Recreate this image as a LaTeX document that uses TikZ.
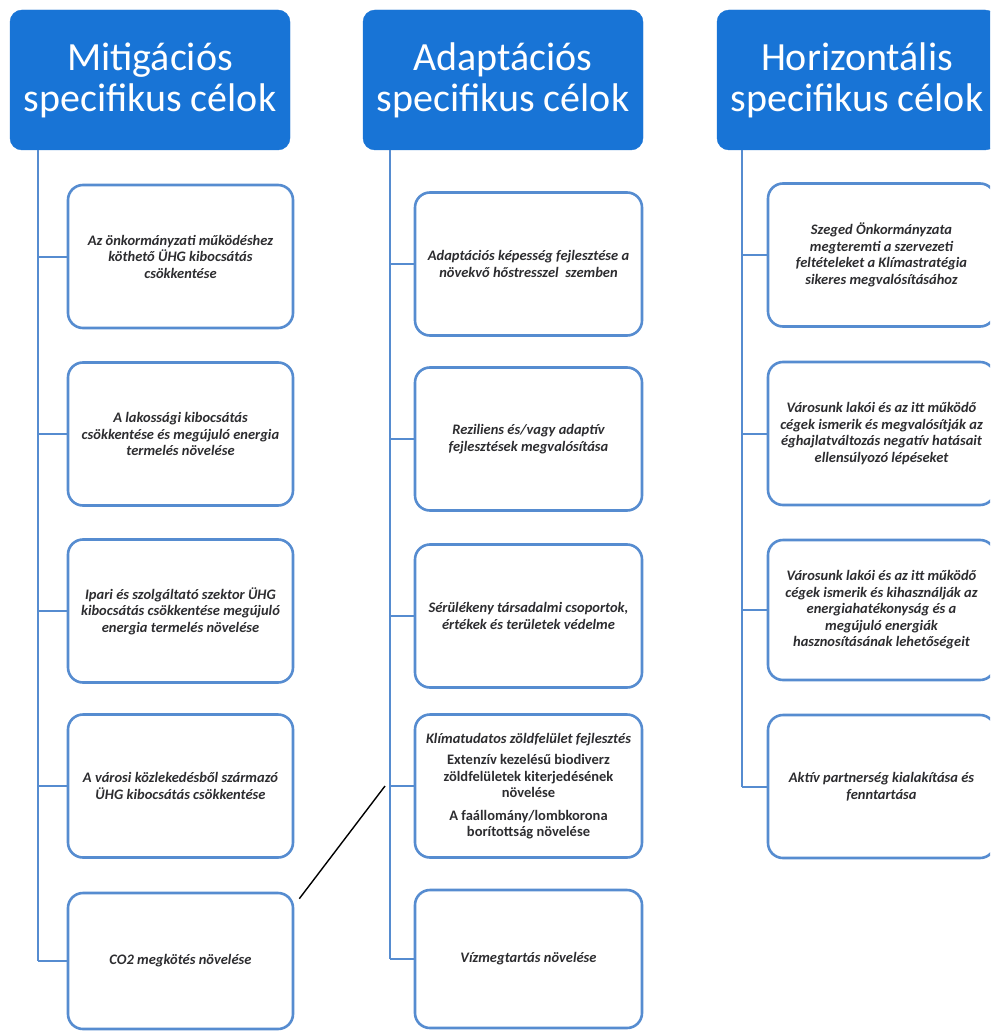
\documentclass[tikz,border=0pt]{standalone}
\usepackage{fontspec}
\setmainfont{Carlito}
\usetikzlibrary{calc}
\definecolor{hdrblue}{RGB}{24,116,214}
\definecolor{boxblue}{RGB}{86,140,208}
\definecolor{txtgray}{RGB}{45,45,48}
\tikzset{
  hdr/.style={fill=hdrblue, draw=hdrblue, rounded corners=12pt, minimum width=280pt, minimum height=140pt, text=white, align=center, font=\fontsize{40}{41}\selectfont, inner sep=0pt},
  goal/.style={draw=boxblue, line width=2.6pt, rounded corners=15pt, fill=white, minimum width=225pt, minimum height=143pt, align=center, text=txtgray, font=\fontsize{14.5}{16.5}\selectfont\bfseries\itshape, inner sep=0pt},
  branch/.style={draw=boxblue, line width=2pt},
  link/.style={draw=black, line width=1.4pt}
}
\begin{document}
\begin{tikzpicture}[x=1pt,y=-1pt]
\useasboundingbox (0,0) rectangle (990,1032);
\clip (0,0) rectangle (990,1032);
\fill[white] (0,0) rectangle (990,1032);

% headers
\node[hdr] (h1) at (150,80) {Mitigációs\\specifikus célok};
\node[hdr] (h2) at (503,80) {Adaptációs\\specifikus célok};
\node[hdr] (h3) at (857,80) {Horizontális\\specifikus célok};

% spine anchors
\coordinate (v1) at (38,150);
\coordinate (v2) at (390,150);
\coordinate (v3) at (742,150);

% column 1
\node[goal] (a1) at (180.5,256.5) {Az önkormányzati működéshez\\köthető ÜHG kibocsátás\\csökkentése};
\node[goal] (a2) at (180.5,434) {A lakossági kibocsátás\\csökkentése és megújuló energia\\termelés növelése};
\node[goal] (a3) at (180.5,611) {Ipari és szolgáltató szektor ÜHG\\kibocsátás csökkentése megújuló\\energia termelés növelése};
\node[goal] (a4) at (180.5,786) {A városi közlekedésből származó\\ÜHG kibocsátás csökkentése};
\node[goal, minimum height=136pt] (a5) at (180.5,961) {CO2 megkötés növelése};

% column 2
\node[goal, minimum width=227pt] (b1) at (528.5,264) {Adaptációs képesség fejlesztése a\\növekvő hőstresszel\ \ szemben};
\node[goal, minimum width=227pt] (b2) at (528.5,439) {Reziliens és/vagy adaptív\\fejlesztések megvalósítása};
\node[goal, minimum width=227pt] (b3) at (528.5,616) {Sérülékeny társadalmi csoportok,\\értékek és területek védelme};
\node[goal, minimum width=227pt] (b4) at (528.5,786) {Klímatudatos zöldfelület fejlesztés\\[5pt]
  {\upshape Extenzív kezelésű biodiverz}\\{\upshape zöldfelületek kiterjedésének}\\{\upshape növelése}\\[6pt]
  {\upshape A faállomány/lombkorona}\\{\upshape borítottság növelése}};
\node[goal, minimum width=227pt, minimum height=138pt] (b5) at (528.5,959) {Vízmegtartás növelése};

% column 3
\node[goal, minimum width=227pt] (c1) at (881.5,255) {Szeged Önkormányzata\\megteremti a szervezeti\\feltételeket a Klímastratégia\\sikeres megvalósításához};
\node[goal, minimum width=227pt] (c2) at (881.5,433.5) {Városunk lakói és az itt működő\\cégek ismerik és megvalósítják az\\éghajlatváltozás negatív hatásait\\ellensúlyozó lépéseket};
\node[goal, minimum width=227pt, minimum height=140pt] (c3) at (881.5,610) {Városunk lakói és az itt működő\\cégek ismerik és kihasználják az\\energiahatékonyság és a\\megújuló energiák\\hasznosításának lehetőségeit};
\node[goal, minimum width=227pt] (c4) at (881.5,786.5) {Aktív partnerség kialakítása és\\fenntartása};

% spines
\draw[branch] (v1) -- (v1 |- a5.west);
\draw[branch] (v2) -- (v2 |- b5.west);
\draw[branch] (v3) -- (v3 |- c4.west);

% branches
\foreach \n in {a1,a2,a3,a4,a5}{\draw[branch] (v1 |- \n.west) -- (\n.west);}
\foreach \n in {b1,b2,b3,b4,b5}{\draw[branch] (v2 |- \n.west) -- (\n.west);}
\foreach \n in {c1,c2,c3,c4}{\draw[branch] (v3 |- \n.west) -- (\n.west);}

% black connector
\coordinate (k) at (385,786);
\draw[link] ([xshift=5pt,yshift=-7pt]a5.north east) -- (k);
\end{tikzpicture}
\end{document}
